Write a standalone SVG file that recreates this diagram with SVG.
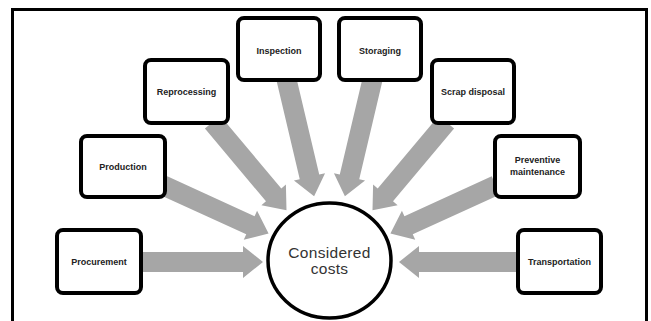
<svg xmlns="http://www.w3.org/2000/svg" width="651" height="321" viewBox="0 0 651 321">
<style>
.frame{fill:none;stroke:#000;stroke-width:3}
.arrow{fill:#a6a6a6;stroke:none}
.box{fill:#fff;stroke:#000;stroke-width:4}
.lbl{font-family:"Liberation Sans",Arial,sans-serif;font-size:9px;font-weight:bold;fill:#222;text-anchor:middle}
.hub{fill:#fff;stroke:#000;stroke-width:3.5}
.hubt{font-family:"Liberation Sans",Arial,sans-serif;font-size:15.5px;fill:#333;text-anchor:middle;letter-spacing:0.3px}
</style>
<rect width="651" height="321" fill="#fff"/>
<rect class="frame" x="12.5" y="9.5" width="634" height="330"/>
<g id="connectors">
<path class="arrow" transform="translate(263,262) rotate(0)" d="M0,0 L-20,-16 L-20,-10 L-124,-10 L-124,10 L-20,10 L-20,16 Z"/>
<path class="arrow" transform="translate(268.6,233.6) rotate(24.6)" d="M0,0 L-20,-16 L-20,-10 L-116,-10 L-116,10 L-20,10 L-20,16 Z"/>
<path class="arrow" transform="translate(286.5,210.2) rotate(50)" d="M0,0 L-20,-16 L-20,-10 L-115,-10 L-115,10 L-20,10 L-20,16 Z"/>
<path class="arrow" transform="translate(314.1,196.3) rotate(76.7)" d="M0,0 L-20,-16 L-20,-10 L-122,-10 L-122,10 L-20,10 L-20,16 Z"/>
<path class="arrow" transform="translate(344.9,196.3) rotate(103.3)" d="M0,0 L-20,-16 L-20,-10 L-122,-10 L-122,10 L-20,10 L-20,16 Z"/>
<path class="arrow" transform="translate(372.5,210.2) rotate(130)" d="M0,0 L-20,-16 L-20,-10 L-115,-10 L-115,10 L-20,10 L-20,16 Z"/>
<path class="arrow" transform="translate(390.4,233.6) rotate(155.4)" d="M0,0 L-20,-16 L-20,-10 L-116,-10 L-116,10 L-20,10 L-20,16 Z"/>
<path class="arrow" transform="translate(399,262) rotate(180)" d="M0,0 L-20,-16 L-20,-10 L-121,-10 L-121,10 L-20,10 L-20,16 Z"/>
</g>
<g id="procurement">
<rect class="box" x="57" y="230" width="84" height="63" rx="6"/>
<text class="lbl" x="99" y="265">Procurement</text>
</g>
<g id="production">
<rect class="box" x="81" y="136" width="84" height="61" rx="6"/>
<text class="lbl" x="123" y="169.5">Production</text>
</g>
<g id="reprocessing">
<rect class="box" x="145" y="60" width="83" height="63" rx="6"/>
<text class="lbl" x="186.5" y="94.5">Reprocessing</text>
</g>
<g id="inspection">
<rect class="box" x="238" y="18" width="82" height="62" rx="6"/>
<text class="lbl" x="279" y="53.5">Inspection</text>
</g>
<g id="storaging">
<rect class="box" x="339" y="18" width="82" height="62" rx="6"/>
<text class="lbl" x="380" y="53.5">Storaging</text>
</g>
<g id="scrap-disposal">
<rect class="box" x="432" y="60" width="82" height="63" rx="6"/>
<text class="lbl" x="473" y="94.5">Scrap disposal</text>
</g>
<g id="preventive-maintenance">
<rect class="box" x="495" y="136" width="85" height="61" rx="6"/>
<text class="lbl" x="537.5" y="163">Preventive</text>
<text class="lbl" x="537.5" y="175">maintenance</text>
</g>
<g id="transportation">
<rect class="box" x="518" y="230" width="83" height="63" rx="6"/>
<text class="lbl" x="559.5" y="265">Transportation</text>
</g>
<g id="considered-costs">
<ellipse class="hub" cx="329.5" cy="260.5" rx="61.5" ry="57.5"/>
<text class="hubt" x="329.5" y="258">Considered</text>
<text class="hubt" x="329.5" y="274">costs</text>
</g>
</svg>
